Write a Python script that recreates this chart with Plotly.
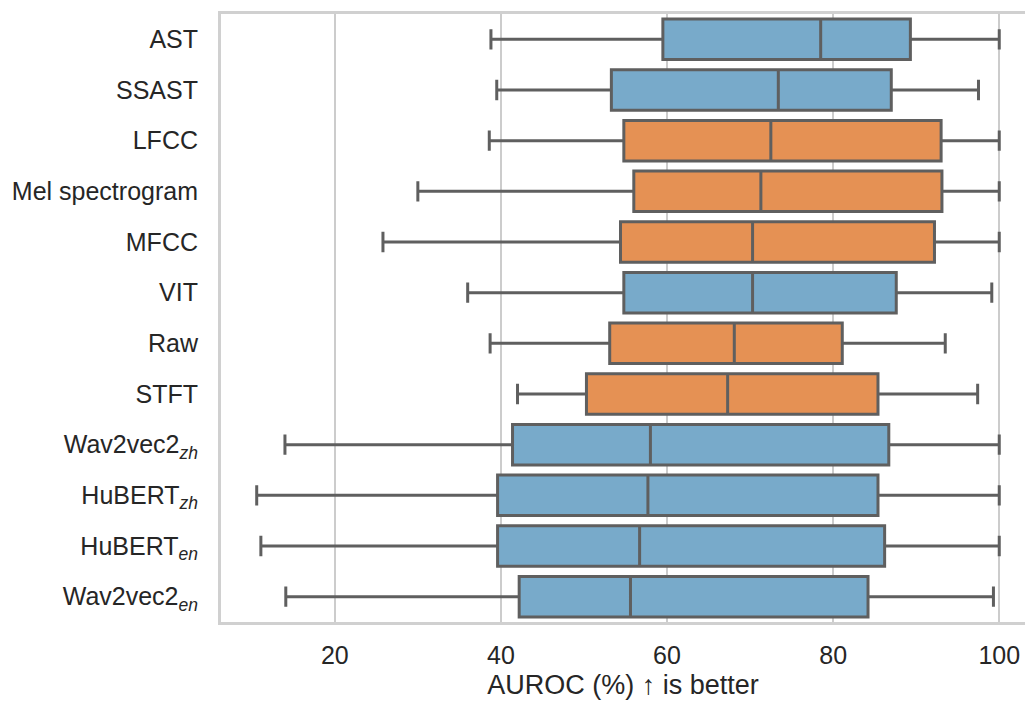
import plotly.graph_objects as go

# Feature / model names, top to bottom
models = ["AST", "SSAST", "LFCC", "Mel spectrogram", "MFCC", "VIT", "Raw", "STFT",
          "Wav2vec2_zh", "HuBERT_zh", "HuBERT_en", "Wav2vec2_en"]
tick_labels = ["AST", "SSAST", "LFCC", "Mel spectrogram", "MFCC", "VIT", "Raw", "STFT",
               "Wav2vec2<sub><i>zh</i></sub>", "HuBERT<sub><i>zh</i></sub>",
               "HuBERT<sub><i>en</i></sub>", "Wav2vec2<sub><i>en</i></sub>"]
# group: "pre" = pretrained model features, "hand" = handcrafted features
groups = ["pre", "pre", "hand", "hand", "hand", "pre", "hand", "hand",
          "pre", "pre", "pre", "pre"]

# AUROC (%) box statistics per model
lower = [38.8, 39.5, 38.6, 30.0, 25.8, 36.0, 38.7, 42.0, 14.0, 10.6, 11.1, 14.1]
q1 = [59.5, 53.3, 54.8, 56.0, 54.4, 54.8, 53.1, 50.3, 41.4, 39.6, 39.6, 42.2]
median = [78.5, 73.4, 72.5, 71.3, 70.3, 70.3, 68.1, 67.3, 58.0, 57.7, 56.7, 55.6]
q3 = [89.3, 87.0, 93.0, 93.1, 92.2, 87.6, 81.1, 85.4, 86.7, 85.4, 86.2, 84.2]
upper = [100.0, 97.5, 100.0, 100.0, 100.0, 99.1, 93.5, 97.4, 100.0, 100.0, 100.0, 99.3]

x_ticks = [20, 40, 60, 80, 100]

colors = {"pre": "#78AACA", "hand": "#E59154"}
edge = "#5f5f5f"
font = "Liberation Sans, Arial, sans-serif"

fig = go.Figure()
for g in ["pre", "hand"]:
    idx = [i for i, gg in enumerate(groups) if gg == g]
    fig.add_trace(go.Box(
        y=[models[i] for i in idx],
        lowerfence=[lower[i] for i in idx],
        q1=[q1[i] for i in idx],
        median=[median[i] for i in idx],
        q3=[q3[i] for i in idx],
        upperfence=[upper[i] for i in idx],
        orientation="h",
        fillcolor=colors[g],
        line=dict(color=edge, width=3),
        width=0.8,
        whiskerwidth=0.5,
        boxpoints=False,
        showlegend=False,
    ))

fig.update_layout(
    width=1025, height=702,
    margin=dict(l=221, r=0, t=14, b=80),
    paper_bgcolor="white", plot_bgcolor="white",
    boxmode="overlay",
    font=dict(family=font, size=25, color="#262626"),
    xaxis=dict(
        range=[6.3, 103.1],
        tickvals=x_ticks,
        ticktext=[str(v) for v in x_ticks],
        showgrid=True, gridcolor="#cccccc", gridwidth=2,
        zeroline=False,
        showline=True, mirror=True, linecolor="#d0d0d0", linewidth=3,
        ticks="", ticklabelstandoff=9,
        title=dict(text="AUROC (%) ↑ is better", standoff=8, font=dict(size=27)),
    ),
    yaxis=dict(
        type="category",
        categoryorder="array", categoryarray=models,
        tickvals=models, ticktext=tick_labels,
        range=[11.5, -0.5],
        showgrid=False, zeroline=False,
        showline=True, mirror=False, linecolor="#d0d0d0", linewidth=3,
        ticks="", ticklabelstandoff=15,
    ),
)

fig.write_html("out.html")
